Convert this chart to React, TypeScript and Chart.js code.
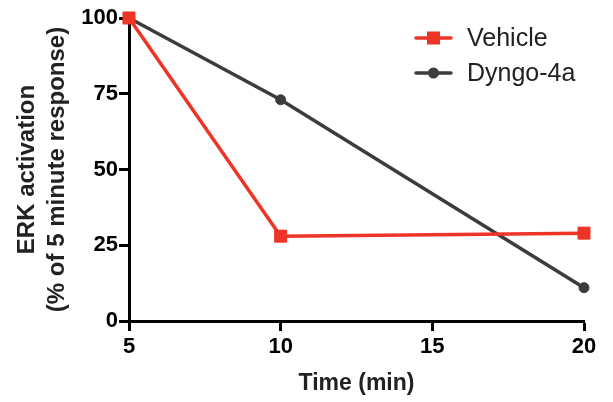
import React, { useEffect, useRef } from "react";
import { Chart, registerables } from "chart.js";

Chart.register(...registerables);

const timePoints = [5, 10, 20];
const vehicleValues = [100, 28, 29];
const dyngoValues = [100, 73, 11];
const seriesNames = ["Vehicle", "Dyngo-4a"];
const xTicks = [5, 10, 15, 20];
const yTicks = [0, 25, 50, 75, 100];

const RED = "#EE3426";
const DARK = "#3C3C3C";
const FONT = "'Liberation Sans', Arial, Helvetica, sans-serif";

const legendPlugin = {
  id: "customLegend",
  afterDraw(chart: any) {
    const ctx = chart.ctx;
    const x0 = 416;
    const x1 = 451;
    const ys = [38, 73];
    chart.data.datasets.forEach((ds: any, i: number) => {
      const y = ys[i];
      ctx.save();
      ctx.strokeStyle = ds.borderColor;
      ctx.lineWidth = 3.5;
      ctx.lineCap = "round";
      ctx.beginPath();
      ctx.moveTo(x0, y);
      ctx.lineTo(x1, y);
      ctx.stroke();
      ctx.fillStyle = ds.pointBackgroundColor;
      const cx = (x0 + x1) / 2;
      if (ds.pointStyle === "rect") {
        ctx.fillRect(cx - 6.5, y - 6.5, 13, 13);
      } else {
        ctx.beginPath();
        ctx.arc(cx, y, 5.5, 0, Math.PI * 2);
        ctx.fill();
      }
      ctx.fillStyle = "#222";
      ctx.font = `25px ${FONT}`;
      ctx.textBaseline = "middle";
      ctx.textAlign = "left";
      ctx.fillText(ds.label, 467, y + 1);
      ctx.restore();
    });
  },
};

export default function App() {
  const ref = useRef<HTMLCanvasElement>(null);
  useEffect(() => {
    if (!ref.current) return;
    const chart = new Chart(ref.current, {
      type: "line",
      data: {
        datasets: [
          {
            label: seriesNames[0],
            data: timePoints.map((t, i) => ({ x: t, y: vehicleValues[i] })),
            borderColor: RED,
            backgroundColor: RED,
            pointBackgroundColor: RED,
            pointBorderColor: RED,
            pointStyle: "rect",
            pointRadius: 8.5,
            pointBorderWidth: 1,
            borderWidth: 3.5,
            tension: 0,
            clip: false as any,
          },
          {
            label: seriesNames[1],
            data: timePoints.map((t, i) => ({ x: t, y: dyngoValues[i] })),
            borderColor: DARK,
            backgroundColor: DARK,
            pointBackgroundColor: DARK,
            pointBorderColor: DARK,
            pointStyle: "circle",
            pointRadius: 5,
            pointBorderWidth: 1,
            borderWidth: 3.5,
            tension: 0,
            clip: false as any,
          },
        ],
      },
      options: {
        responsive: false,
        animation: false,
        layout: { padding: { top: 18, right: 29, left: 0, bottom: 0 } },
        plugins: { legend: { display: false }, tooltip: { enabled: false } },
        scales: {
          x: {
            type: "linear",
            min: 5,
            max: 20,
            afterBuildTicks: (s: any) => {
              s.ticks = xTicks.map((v) => ({ value: v }));
            },
            afterFit: (s: any) => {
              s.height = 81;
            },
            grid: {
              display: true,
              drawOnChartArea: false,
              drawTicks: true,
              tickLength: 10,
              tickWidth: 3,
              tickColor: "#000",
            },
            border: { display: true, width: 3, color: "#000" },
            ticks: {
              color: "#000",
              padding: 3,
              font: { family: FONT, size: 22, weight: "bold" },
            },
            title: {
              display: true,
              text: "Time (min)",
              color: "#222",
              font: { family: FONT, size: 23, weight: "bold", lineHeight: 1.2 },
              padding: { top: 0, bottom: 5 },
            },
          },
          y: {
            type: "linear",
            min: 0,
            max: 100,
            afterBuildTicks: (s: any) => {
              s.ticks = yTicks.map((v) => ({ value: v }));
            },
            afterFit: (s: any) => {
              s.width = 129;
            },
            grid: {
              display: true,
              drawOnChartArea: false,
              drawTicks: true,
              tickLength: 10,
              tickWidth: 3,
              tickColor: "#000",
            },
            border: { display: true, width: 3, color: "#000" },
            ticks: {
              color: "#000",
              padding: 1,
              font: { family: FONT, size: 22, weight: "bold" },
            },
            title: {
              display: true,
              text: ["ERK activation", "(% of 5 minute response)"],
              color: "#222",
              font: { family: FONT, size: 24, weight: "bold", lineHeight: 1.25 },
              padding: { top: 12, bottom: 0 },
            },
          },
        },
      },
      plugins: [legendPlugin],
    });
    return () => chart.destroy();
  }, []);
  return (
    <div style={{ position: "fixed", left: 0, top: 0, width: 613, height: 402, background: "#fff" }}>
      <canvas ref={ref} width={613} height={402} />
    </div>
  );
}
